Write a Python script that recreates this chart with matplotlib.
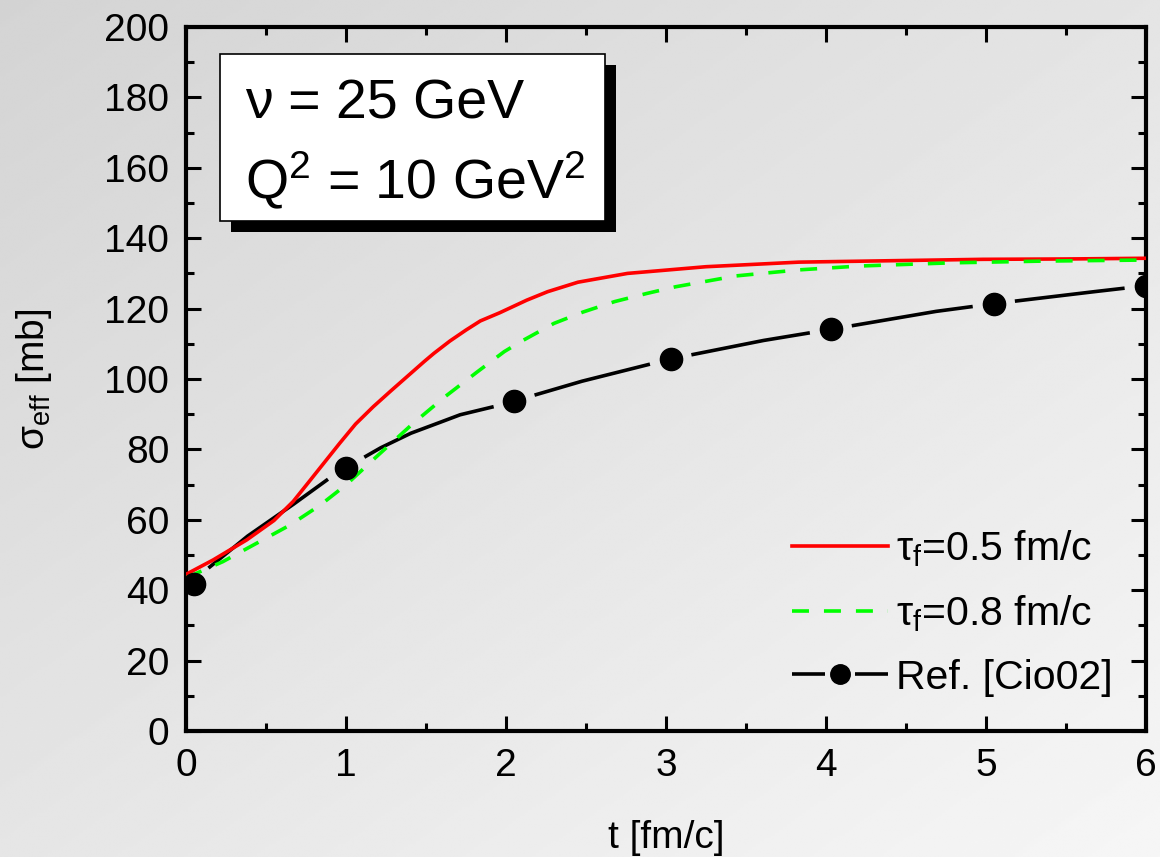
import numpy as np
import matplotlib
matplotlib.use('Agg')
import matplotlib.pyplot as plt
from matplotlib.lines import Line2D
from matplotlib.patches import Rectangle
from matplotlib.legend_handler import HandlerBase
from matplotlib.ticker import MultipleLocator

plt.rcParams['font.family'] = ['Liberation Sans', 'DejaVu Sans']
plt.rcParams['mathtext.fontset'] = 'custom'
plt.rcParams['mathtext.rm'] = 'Liberation Sans'
plt.rcParams['mathtext.it'] = 'Liberation Sans:italic'

# sigma_eff for formation time 0.5 fm/c
t_05 = [0.0, 0.17, 0.38, 0.55, 0.67, 0.76, 0.86, 0.96, 1.06, 1.17, 1.28, 1.38, 1.49,
        1.55, 1.65, 1.75, 1.84, 1.96, 2.13, 2.26, 2.45, 2.76, 3.25, 3.83, 4.4, 4.98,
        5.5, 6.0]
s_05 = [44.5, 48.6, 54.3, 59.8, 65.2, 70.3, 76.0, 81.7, 87.2, 92.1, 96.6, 100.6, 105.0,
        107.3, 110.8, 113.9, 116.5, 118.8, 122.4, 124.8, 127.5, 130.0, 131.9, 133.2,
        133.6, 134.0, 134.1, 134.3]

# sigma_eff for formation time 0.8 fm/c
t_08 = [0.0, 0.23, 0.44, 0.65, 0.84, 1.0, 1.19, 1.42, 1.62, 1.82, 1.99, 2.1, 2.3, 2.48,
        2.68, 2.88, 3.06, 3.44, 3.83, 4.21, 4.78, 5.36, 6.0]
s_08 = [43.5, 48.1, 53.3, 58.5, 64.2, 69.9, 77.9, 87.4, 95.0, 102.0, 107.8, 110.8,
        115.8, 119.0, 122.0, 124.3, 126.2, 129.3, 131.0, 132.1, 133.0, 133.5, 133.8]

# Ref. [Cio02]: curve and its calculated points
t_ref_line = [0.05, 0.13, 0.38, 0.65, 0.88, 1.0, 1.1, 1.21, 1.4, 1.525, 1.71, 1.92,
              2.05, 2.46, 3.03, 3.59, 4.03, 4.67, 5.05, 5.56, 6.0]
s_ref_line = [41.8, 45.9, 55.2, 63.7, 71.3, 74.8, 77.4, 80.3, 84.5, 86.6, 89.8, 92.1,
              93.7, 99.2, 105.7, 110.8, 114.1, 119.1, 121.4, 124.2, 126.5]
t_ref_pts = [0.05, 1.0, 2.05, 3.03, 4.03, 5.05, 6.0]
s_ref_pts = [41.8, 74.8, 93.7, 105.7, 114.1, 121.4, 126.5]

LW = 2.6
DASH = (0, (4.7, 4.15))
FS = 28
LEG_FS = 29.5


class GapLineHandler(HandlerBase):
    """Legend key drawn as line - dot - line with small gaps."""
    def create_artists(self, legend, orig, xdescent, ydescent, width, height,
                       fontsize, trans):
        y = height / 2 - ydescent
        cx = width / 2 - xdescent
        gap = 0.16 * width
        left = Line2D([-xdescent, cx - gap], [y, y], color='black', lw=LW,
                      solid_capstyle='butt')
        right = Line2D([cx + gap, width - xdescent], [y, y], color='black', lw=LW,
                       solid_capstyle='butt')
        dot = Line2D([cx], [y], marker='o', ms=14, color='black', ls='none')
        for a in (left, right, dot):
            a.set_transform(trans)
        return [left, right, dot]


def gapped_line(ax, t, s, mt, ms, gap_px, **kw):
    """Plot a line that is interrupted around each marker."""
    pts = ax.transData.transform(np.column_stack([t, s]))
    seg = np.hypot(np.diff(pts[:, 0]), np.diff(pts[:, 1]))
    dist = np.concatenate([[0], np.cumsum(seg)])
    steps = np.arange(0, dist[-1], 0.5)
    xs = np.interp(steps, dist, pts[:, 0])
    ys = np.interp(steps, dist, pts[:, 1])
    mk = ax.transData.transform(np.column_stack([mt, ms]))
    d = np.min(np.hypot(xs[:, None] - mk[:, 0], ys[:, None] - mk[:, 1]), axis=1)
    xs[d < gap_px] = np.nan
    ys[d < gap_px] = np.nan
    back = ax.transData.inverted().transform(np.column_stack([xs, ys]))
    return ax.plot(back[:, 0], back[:, 1], solid_capstyle='butt', **kw)


fig = plt.figure(figsize=(11.6, 8.57), dpi=100)

# grey gradient backdrop
bg = fig.add_axes([0, 0, 1, 1], zorder=-10)
gx, gy = np.meshgrid(np.linspace(0, 1, 300), np.linspace(0, 1, 300))
grad = 0.83 + 0.065 * gx + 0.07 * gy
bg.imshow(grad, cmap='gray', vmin=0, vmax=1, extent=(0, 1, 0, 1),
          origin='upper', aspect='auto', interpolation='bilinear')
bg.axis('off')

ax = fig.add_axes([0.1603, 0.147, 0.8276, 0.8215])
ax.set_facecolor('none')
ax.set_xlim(0, 6)
ax.set_ylim(0, 200)

ax.plot(t_05, s_05, color='#ff0000', lw=LW, zorder=3)
ax.plot(t_08, s_08, color='#00ff00', lw=LW, ls=DASH, zorder=3)
gapped_line(ax, t_ref_line, s_ref_line, t_ref_pts, s_ref_pts, 21,
            color='black', lw=LW, zorder=2)
ax.plot(t_ref_pts, s_ref_pts, 'o', color='black', ms=16, zorder=4)

ref_handle = Line2D([], [], color='black')
handles = [Line2D([], [], color='#ff0000', lw=LW),
           Line2D([], [], color='#00ff00', lw=LW, ls=DASH),
           ref_handle]
labels = [r'$\mathregular{τ_f}$=0.5 fm/c', r'$\mathregular{τ_f}$=0.8 fm/c', 'Ref. [Cio02]']
ax.legend(handles, labels, loc='lower right', bbox_to_anchor=(0.965, 0.049),
          frameon=False, fontsize=LEG_FS, handlelength=2.32, handletextpad=0.2,
          labelspacing=0.6, borderpad=0, borderaxespad=0,
          handler_map={ref_handle: GapLineHandler()})

# axes styling
for sp in ax.spines.values():
    sp.set_linewidth(3)
ax.xaxis.set_major_locator(MultipleLocator(1))
ax.xaxis.set_minor_locator(MultipleLocator(0.5))
ax.yaxis.set_major_locator(MultipleLocator(20))
ax.yaxis.set_minor_locator(MultipleLocator(10))
ax.tick_params(which='both', direction='in', top=True, right=True, width=2.2,
               labelsize=FS, pad=12)
ax.tick_params(which='major', length=11)
ax.tick_params(which='minor', length=6)

ax.set_xlabel('t [fm/c]', fontsize=FS, labelpad=26)
ax.set_ylabel(r'$\mathregular{σ_{eff}}$ [mb]', fontsize=FS, labelpad=36)

# parameter box with drop shadow
bx0, by0, bx1, by1 = 0.0354, 0.7244, 0.4365, 0.9616
ax.add_patch(Rectangle((bx0 + 0.0115, by0 - 0.0156), bx1 - bx0, by1 - by0,
                       transform=ax.transAxes, facecolor='black', edgecolor='none',
                       zorder=5))
ax.add_patch(Rectangle((bx0, by0), bx1 - bx0, by1 - by0, transform=ax.transAxes,
                       facecolor='white', edgecolor='black', lw=1.2, zorder=6))
ax.text(0.0615, 0.8707, 'ν = 25 GeV', transform=ax.transAxes, fontsize=40,
        va='baseline', ha='left', zorder=7)
ax.text(0.0615, 0.757, r'Q$^\mathregular{2}$ = 10 GeV$^\mathregular{2}$',
        transform=ax.transAxes, fontsize=40, va='baseline', ha='left', zorder=7)

fig.savefig('out.png', dpi=100)
